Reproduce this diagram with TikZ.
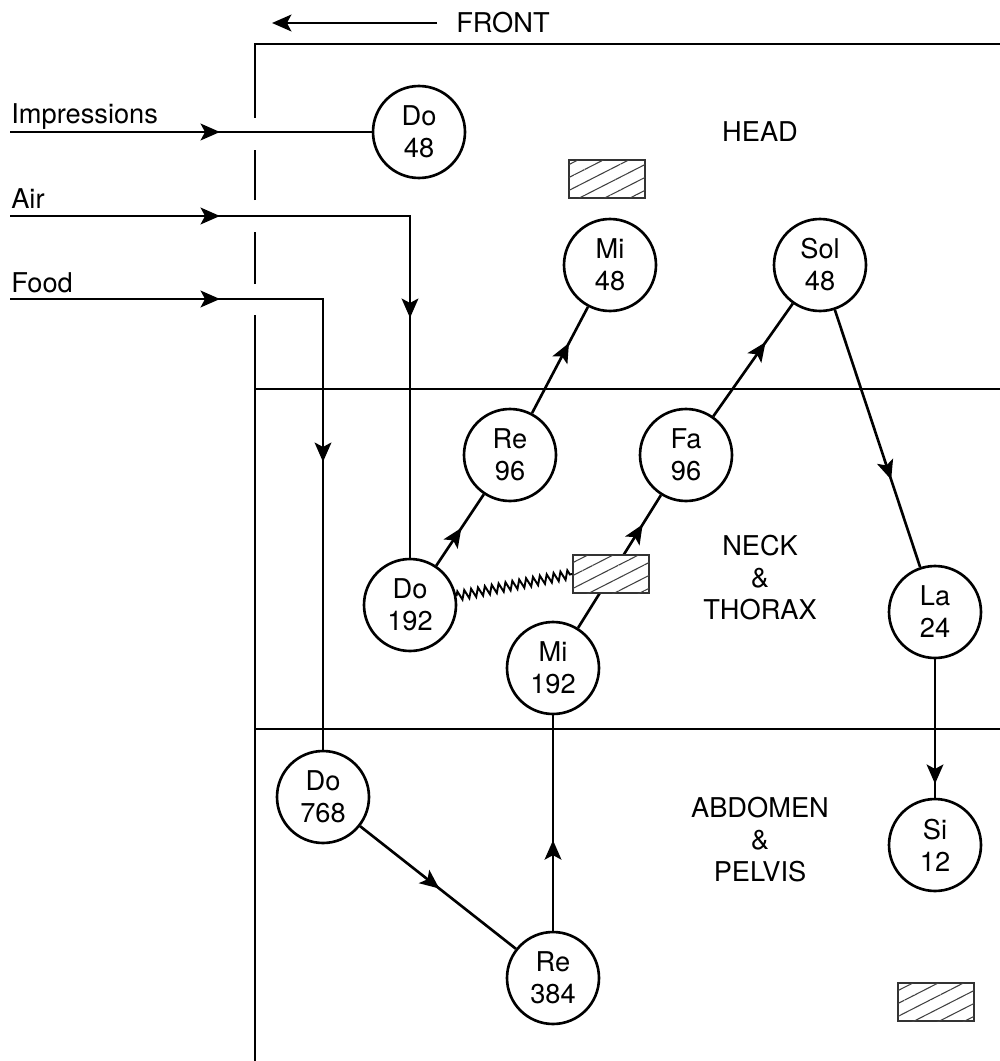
\documentclass[tikz,border=0pt]{standalone}
\usepackage{fontspec}
\setmainfont{TeX Gyre Heros}
\usetikzlibrary{arrows.meta,decorations.markings,decorations.pathmorphing,patterns.meta}

\begin{document}
\begin{tikzpicture}[x=0.02cm, y=-0.02cm, line width=1.5pt,
  >={Stealth[length=11pt,width=9.5pt,inset=2.5pt]},
  every node/.style={font=\fontsize{15.5}{18.2}\selectfont},
  note/.style={circle, draw, minimum size=1.84cm, inner sep=0pt, align=center},
  hatchbox/.style={draw=black!80, line width=0.8pt, fill=white, minimum width=1.52cm, minimum height=0.76cm, inner sep=0pt,
    postaction={pattern={Lines[angle=27,distance=2.3mm,line width=0.6pt]}, pattern color=black!75}},
  flowto/.style={postaction={decorate}, decoration={markings, mark=at position #1 with {\arrow{>}}}},
  flowtwice/.style 2 args={postaction={decorate}, decoration={markings, mark=at position #1 with {\arrow{>}}, mark=at position #2 with {\arrow{>}}}},
  spring/.style={decorate, decoration={zigzag, segment length=0.14cm, amplitude=0.09cm}, line width=1.1pt}]
  \useasboundingbox (0,0) rectangle (1000,1061);
  % body outline, front side dashed
  \draw (255,1061) -- (255,315);
  \draw (255,284) -- (255,232);
  \draw (255,200) -- (255,150);
  \draw (255,118) -- (255,44) -- (1000,44);
  \draw (255,389) -- (1000,389);
  \draw (255,729) -- (1000,729);
  % direction
  \node[anchor=west, inner sep=0pt] (front) at (455,23) {FRONT};
  \coordinate (fronttip) at (272,23);
  \draw[->] ([xshift=-0.36cm]front.west) -- (fronttip);
  % regions
  \node (head) at (760,132) {HEAD};
  \node[align=center] (thorax) at (760,578) {NECK\\\&\\THORAX};
  \node[align=center] (abdomen) at (760,840) {ABDOMEN\\\&\\PELVIS};
  % notes
  \node[note] (do48) at (419,132) {Do\\48};
  \node[note] (mi48) at (610,265) {Mi\\48};
  \node[note] (sol48) at (820,265) {Sol\\48};
  \node[note] (re96) at (510,455) {Re\\96};
  \node[note] (fa96) at (686,455) {Fa\\96};
  \node[note] (do192) at (410,605) {Do\\192};
  \node[note] (mi192) at (553,668) {Mi\\192};
  \node[note] (la24) at (935,612) {La\\24};
  \node[note] (do768) at (323,797) {Do\\768};
  \node[note] (re384) at (553,978) {Re\\384};
  \node[note] (si12) at (935,845) {Si\\12};
  % the three foods
  \node[anchor=base west, inner sep=0pt] (implbl) at (10,123) {Impressions};
  \node[anchor=base west, inner sep=0pt] (airlbl) at (10,208) {Air};
  \node[anchor=base west, inner sep=0pt] (foodlbl) at (10,292) {Food};
  \coordinate (impin) at (10,132);
  \coordinate (airin) at (10,216);
  \coordinate (foodin) at (10,299);
  \draw[flowto=4.2cm] (impin) -- (do48);
  \draw[flowtwice={4.2cm}{10.04cm}] (airin) -| (do192);
  \draw[flowtwice={4.2cm}{9.52cm}] (foodin) -| (do768);
  % octaves
  \draw[flowto=0.53] (do192) -- (re96);
  \draw[flowto=0.66] (re96) -- (mi48);
  \draw[flowto=0.51] (do768) -- (re384);
  \draw[flowto=0.42] (re384) -- (mi192);
  \draw[flowto=0.78] (mi192) -- (fa96);
  \draw[flowto=0.66] (fa96) -- (sol48);
  \draw[flowto=0.66] (sol48) -- (la24);
  \draw[flowto=0.9] (la24) -- (si12);
  % shocks
  \node[hatchbox] (shock1) at (607,179) {};
  \node[hatchbox] (shock2) at (611,574) {};
  \node[hatchbox] (shock3) at (936,1002) {};
  \draw[spring] (do192) -- (shock2.west);
\end{tikzpicture}
\end{document}
